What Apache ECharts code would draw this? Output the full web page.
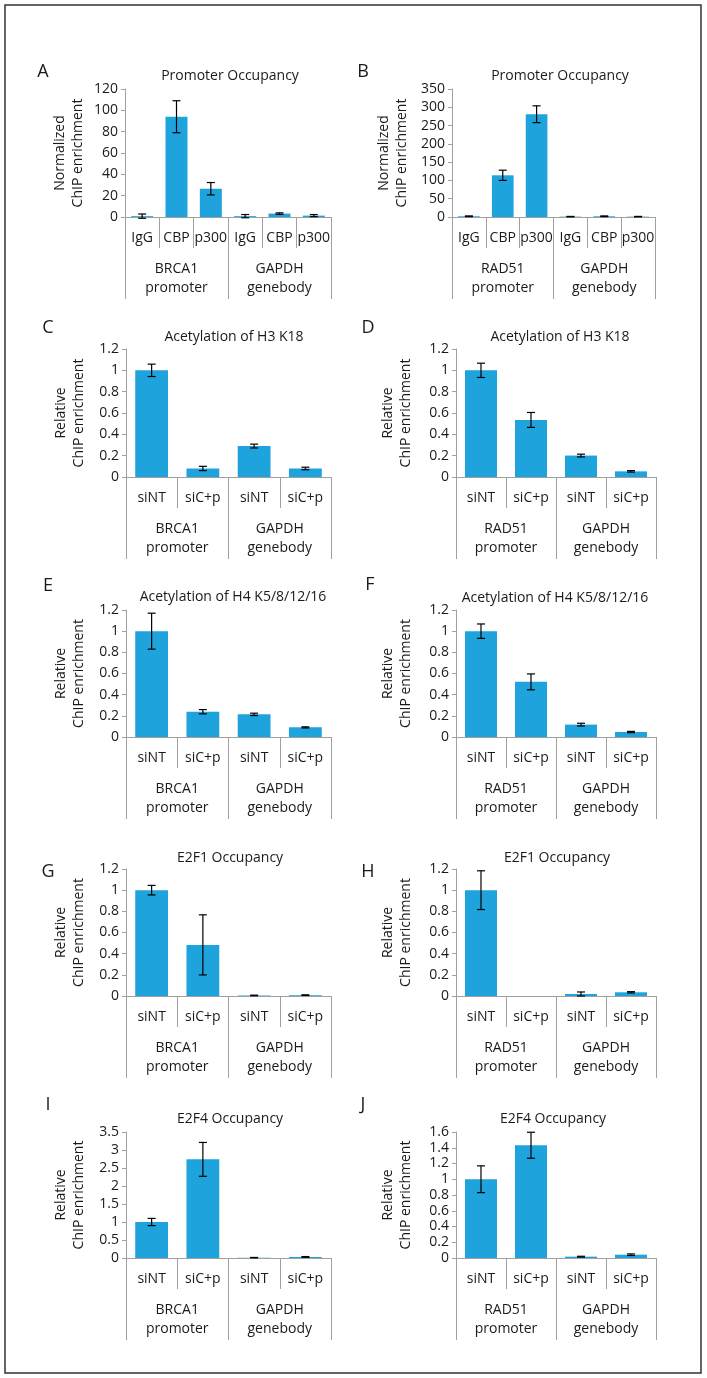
<!DOCTYPE html>
<html>
<head>
<meta charset="utf-8">
<script src="https://cdn.jsdelivr.net/npm/echarts@6/dist/echarts.min.js"></script>
<style>
html,body{margin:0;padding:0;background:#fff;}
#chart{width:707px;height:1378px;}
</style>
</head>
<body>
<div id="chart"></div>
<script>
// ---------- DATA ----------
const panelLetters = ['A','B','C','D','E','F','G','H','I','J'];
const panelTitles = ['Promoter Occupancy','Promoter Occupancy','Acetylation of H3 K18','Acetylation of H3 K18',
  'Acetylation of H4 K5/8/12/16','Acetylation of H4 K5/8/12/16','E2F1 Occupancy','E2F1 Occupancy','E2F4 Occupancy','E2F4 Occupancy'];
const yNameNormalized = 'Normalized\nChIP enrichment';
const yNameRelative = 'Relative\nChIP enrichment';

const catsAntibody = ['IgG','CBP','p300','IgG','CBP','p300'];
const catsSi = ['siNT','siC+p','siNT','siC+p'];
const groupsBRCA1 = ['BRCA1\npromoter','GAPDH\ngenebody'];
const groupsRAD51 = ['RAD51\npromoter','GAPDH\ngenebody'];

const valsA = [0.8, 94, 26.5, 0.8, 3.2, 1.3];
const errA  = [2, 15, 5.8, 1.5, 0.7, 1];
const valsB = [2, 114, 281, 1, 2, 1];
const errB  = [1, 14, 23, 0.6, 1, 0.6];
const valsC = [1, 0.08, 0.29, 0.08];
const errC  = [0.058, 0.02, 0.018, 0.012];
const valsD = [1, 0.535, 0.201, 0.053];
const errD  = [0.067, 0.07, 0.013, 0.007];
const valsE = [1, 0.239, 0.214, 0.091];
const errE  = [0.17, 0.02, 0.011, 0.005];
const valsF = [1, 0.521, 0.117, 0.047];
const errF  = [0.068, 0.075, 0.013, 0.006];
const valsG = [1, 0.483, 0.005, 0.008];
const errG  = [0.045, 0.284, 0.003, 0.003];
const valsH = [1, 0, 0.019, 0.035];
const errH  = [0.183, 0, 0.019, 0.006];
const valsI = [1, 2.74, 0.01, 0.03];
const errI  = [0.1, 0.47, 0.005, 0.01];
const valsJ = [1, 1.432, 0.017, 0.042];
const errJ  = [0.17, 0.165, 0.005, 0.01];

const yMaxA = 120, yStepA = 20;
const yMaxB = 350, yStepB = 50;
const yMaxRel = 1.2, yStepRel = 0.2;
const yMaxI = 3.5, yStepI = 0.5;
const yMaxJ = 1.6, yStepJ = 0.2;

const panels = [
  {cats: catsAntibody, groups: groupsBRCA1, vals: valsA, errs: errA, max: yMaxA, step: yStepA, yName: yNameNormalized},
  {cats: catsAntibody, groups: groupsRAD51, vals: valsB, errs: errB, max: yMaxB, step: yStepB, yName: yNameNormalized},
  {cats: catsSi, groups: groupsBRCA1, vals: valsC, errs: errC, max: yMaxRel, step: yStepRel, yName: yNameRelative},
  {cats: catsSi, groups: groupsRAD51, vals: valsD, errs: errD, max: yMaxRel, step: yStepRel, yName: yNameRelative},
  {cats: catsSi, groups: groupsBRCA1, vals: valsE, errs: errE, max: yMaxRel, step: yStepRel, yName: yNameRelative},
  {cats: catsSi, groups: groupsRAD51, vals: valsF, errs: errF, max: yMaxRel, step: yStepRel, yName: yNameRelative},
  {cats: catsSi, groups: groupsBRCA1, vals: valsG, errs: errG, max: yMaxRel, step: yStepRel, yName: yNameRelative},
  {cats: catsSi, groups: groupsRAD51, vals: valsH, errs: errH, max: yMaxRel, step: yStepRel, yName: yNameRelative},
  {cats: catsSi, groups: groupsBRCA1, vals: valsI, errs: errI, max: yMaxI, step: yStepI, yName: yNameRelative},
  {cats: catsSi, groups: groupsRAD51, vals: valsJ, errs: errJ, max: yMaxJ, step: yStepJ, yName: yNameRelative}
];

// ---------- LAYOUT / STYLE ----------
const rowLayout = [{top: 89, h: 128}, {top: 349, h: 128}, {top: 610, h: 127}, {top: 869, h: 127}, {top: 1132, h: 126}];
const colLayout = [
  [{left: 125, w: 206}, {left: 452, w: 203}],
  [{left: 126, w: 205}, {left: 456, w: 200}],
  [{left: 126, w: 205}, {left: 456, w: 200}],
  [{left: 126, w: 205}, {left: 456, w: 200}],
  [{left: 126, w: 205}, {left: 456, w: 200}]
];
const titlePos = [[230, 76], [560, 76], [234, 337], [560, 337], [233, 597], [555, 598], [230, 858], [557, 858], [230, 1119], [553, 1119]];
const letterPos = [[43, 72], [363, 72], [48, 328], [368, 328], [48, 586], [370, 585], [48, 872], [368, 872], [48, 1105], [363, 1105]];
const nameGaps = [38, 41];

const FONT = 'Open Sans';
const TXT = '#1a1a1a';
const AXIS = '#a0a0a0';
const BAR = '#1fa3dd';
const FS = 14;

const grid = [], xAxis = [], yAxis = [], series = [], graphic = [];

panels.forEach((p, i) => {
  const r = Math.floor(i / 2), c = i % 2;
  const g = colLayout[r][c];
  const row = rowLayout[r];
  grid.push({left: g.left, top: row.top, width: g.w, height: row.h, containLabel: false});
  // level-1 category axis
  xAxis.push({
    type: 'category', gridIndex: i, position: 'bottom', data: p.cats,
    axisLine: {show: true, lineStyle: {color: AXIS, width: 1}},
    axisTick: {show: true, length: 31, interval: 0, lineStyle: {color: AXIS}},
    axisLabel: {interval: 0, margin: 14, color: TXT, fontFamily: FONT, fontSize: FS}
  });
  // level-2 group axis
  xAxis.push({
    type: 'category', gridIndex: i, position: 'bottom', offset: 0, data: p.groups,
    axisLine: {show: false},
    axisTick: {show: true, length: 82, interval: 0, lineStyle: {color: AXIS}},
    axisLabel: {interval: 0, margin: 43, color: TXT, fontFamily: FONT, fontSize: FS, lineHeight: 19}
  });
  yAxis.push({
    type: 'value', gridIndex: i, min: 0, max: p.max, interval: p.step,
    name: p.yName, nameLocation: 'middle', nameGap: nameGaps[c],
    nameTextStyle: {color: TXT, fontFamily: FONT, fontSize: FS, lineHeight: 18},
    axisLine: {show: true, lineStyle: {color: AXIS}},
    axisTick: {show: true, length: 4, lineStyle: {color: AXIS}},
    splitLine: {show: false},
    axisLabel: {margin: 7, color: TXT, fontFamily: FONT, fontSize: FS}
  });
  series.push({
    type: 'bar', xAxisIndex: 2 * i, yAxisIndex: i, data: p.vals,
    barWidth: '64%', itemStyle: {color: BAR}, silent: true, animation: false
  });
  series.push({
    type: 'custom', xAxisIndex: 2 * i, yAxisIndex: i, z: 5, animation: false, silent: true,
    data: p.vals.map((v, k) => [k, v, p.errs[k]]),
    encode: {x: 0, y: 1},
    renderItem: function (params, api) {
      const x = api.value(0), v = api.value(1), e = api.value(2);
      if (!e) return null;
      const t = api.coord([x, v + e]);
      const b = api.coord([x, v - e]);
      const hw = 4;
      const st = {stroke: '#000', lineWidth: 1.2};
      return {
        type: 'group',
        children: [
          {type: 'line', shape: {x1: t[0], y1: t[1], x2: b[0], y2: b[1]}, style: st},
          {type: 'line', shape: {x1: t[0] - hw, y1: t[1], x2: t[0] + hw, y2: t[1]}, style: st},
          {type: 'line', shape: {x1: b[0] - hw, y1: b[1], x2: b[0] + hw, y2: b[1]}, style: st}
        ]
      };
    }
  });
  graphic.push({
    type: 'text', x: titlePos[i][0], y: titlePos[i][1],
    style: {text: panelTitles[i], fill: TXT, font: FS + 'px "' + FONT + '"', textAlign: 'center', textVerticalAlign: 'middle', align: 'center', verticalAlign: 'middle'}
  });
  graphic.push({
    type: 'text', x: letterPos[i][0], y: letterPos[i][1],
    style: {text: panelLetters[i], fill: TXT, font: '18px "' + FONT + '"', textAlign: 'center', textVerticalAlign: 'middle', align: 'center', verticalAlign: 'middle'}
  });
});

graphic.push({
  type: 'rect', shape: {x: 5, y: 5, width: 696, height: 1368}, z: -1,
  style: {fill: 'none', stroke: '#333', lineWidth: 1.5}
});

const chart = echarts.init(document.getElementById('chart'), null, {renderer: 'canvas'});
chart.setOption({
  animation: false,
  backgroundColor: '#fff',
  textStyle: {fontFamily: FONT},
  grid, xAxis, yAxis, series, graphic
});
</script>
</body>
</html>
